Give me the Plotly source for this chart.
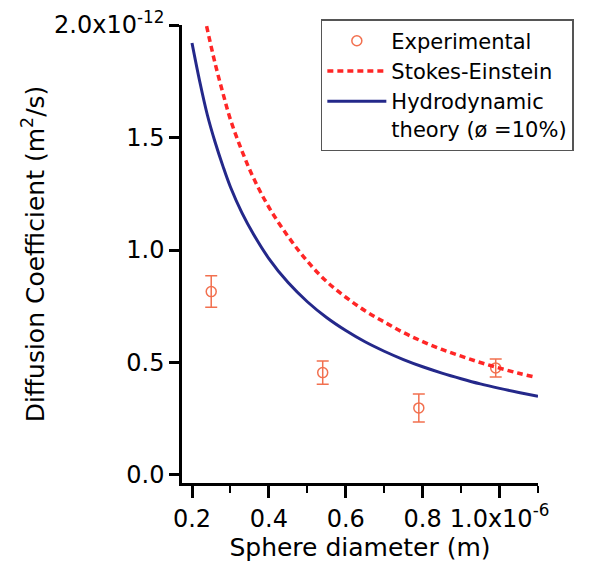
import plotly.graph_objects as go

# Data (x in units of 1e-6 m, y in units of 1e-12 m^2/s)
exp_d = [0.25, 0.54, 0.79, 0.99]
exp_D = [0.815, 0.455, 0.298, 0.476]
exp_err = [0.07, 0.052, 0.062, 0.04]

se_d = [0.238, 0.26, 0.28, 0.30, 0.33, 0.36, 0.40, 0.45, 0.50, 0.55, 0.60, 0.65,
        0.70, 0.75, 0.80, 0.85, 0.90, 0.95, 1.00, 1.05, 1.09]
se_D = [1.995, 1.83, 1.70, 1.58, 1.44, 1.32, 1.19, 1.06, 0.95, 0.86, 0.79, 0.73,
        0.68, 0.633, 0.593, 0.558, 0.528, 0.50, 0.475, 0.452, 0.436]

hy_d = [0.20, 0.22, 0.24, 0.26, 0.28, 0.30, 0.33, 0.36, 0.40, 0.45, 0.50, 0.55,
        0.60, 0.65, 0.70, 0.75, 0.80, 0.85, 0.90, 0.95, 1.00, 1.05, 1.10]
hy_D = [1.92, 1.75, 1.60, 1.48, 1.375, 1.28, 1.165, 1.07, 0.962, 0.855, 0.77, 0.70,
        0.642, 0.592, 0.55, 0.513, 0.481, 0.453, 0.428, 0.405, 0.385, 0.367, 0.35]

x_tickvals = [0.2, 0.4, 0.6, 0.8, 1.0]
x_ticktext = ["0.2", "0.4", "0.6", "0.8", "1.0x10<sup>-6</sup>"]
x_minor = [0.3, 0.5, 0.7, 0.9, 1.1]
y_tickvals = [0.0, 0.5, 1.0, 1.5, 2.0]
y_ticktext = ["0.0", "0.5", "1.0", "1.5", "2.0x10<sup>-12</sup>"]

ORANGE = "#F2704F"
RED = "#FF2626"
NAVY = "#24288A"

fig = go.Figure()
fig.add_trace(go.Scatter(
    x=exp_d, y=exp_D, mode="markers", name="Experimental",
    marker=dict(symbol="circle-open", size=10, color=ORANGE, line=dict(width=1.5, color=ORANGE)),
    error_y=dict(type="data", array=exp_err, color=ORANGE, thickness=1.5, width=6),
))
fig.add_trace(go.Scatter(
    x=se_d, y=se_D, mode="lines", name="Stokes-Einstein",
    line=dict(color=RED, width=3.5, dash="6px,4px", shape="spline"),
))
fig.add_trace(go.Scatter(
    x=hy_d, y=hy_D, mode="lines", name="Hydrodynamic<br>theory (ø =10%)",
    line=dict(color=NAVY, width=3, shape="spline"),
))

fig.update_layout(
    width=593, height=565,
    margin=dict(l=182, r=55, t=25, b=82, autoexpand=False),
    plot_bgcolor="white", paper_bgcolor="white",
    font=dict(family="DejaVu Sans", color="black", size=24),
    showlegend=True,
    legend=dict(
        x=0.39, y=1.013, xanchor="left", yanchor="top",
        bgcolor="white", bordercolor="#555555", borderwidth=1.5,
        font=dict(size=21, family="DejaVu Sans"), valign="top",
        itemwidth=59, tracegroupgap=0,
    ),
    xaxis=dict(
        range=[0.174, 1.1], showgrid=False, zeroline=False, automargin=False,
        showline=True, linecolor="black", linewidth=2.5,
        ticks="outside", ticklen=12, tickwidth=2.5, tickcolor="black",
        tickvals=x_tickvals, ticktext=x_ticktext, tickfont=dict(size=24),
        minor=dict(tickvals=x_minor, ticks="outside", ticklen=7, tickwidth=2, tickcolor="black", showgrid=False),
        title=dict(text="Sphere diameter (m)", font=dict(size=25), standoff=6),
    ),
    yaxis=dict(
        range=[-0.0356, 2.0], showgrid=False, zeroline=False, automargin=False,
        showline=True, linecolor="black", linewidth=2.5,
        ticks="outside", ticklen=10, tickwidth=2.5, tickcolor="black",
        tickvals=y_tickvals, ticktext=y_ticktext, tickfont=dict(size=24),
        title=dict(text="Diffusion Coefficient (m<sup>2</sup>/s)", font=dict(size=25), standoff=3),
    ),
)

fig.write_html("out.html", config={"displayModeBar": False},
               post_script="document.body.style.margin='0';")
